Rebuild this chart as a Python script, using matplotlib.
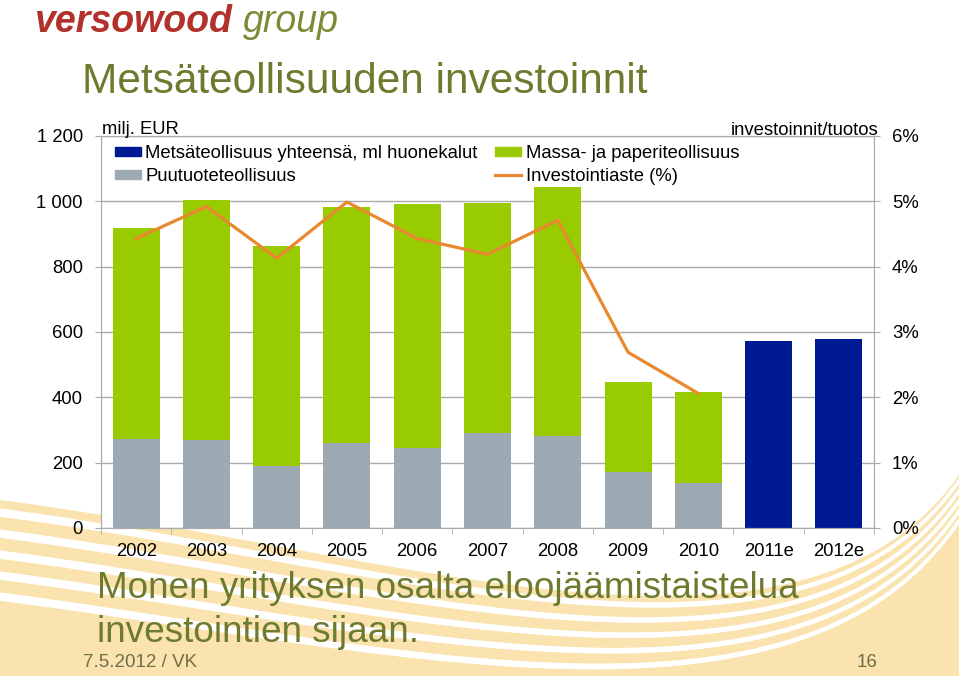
import numpy as np
import matplotlib
matplotlib.use('Agg')
import matplotlib.pyplot as plt
from matplotlib.patches import Patch
from matplotlib.lines import Line2D
from matplotlib.collections import LineCollection

plt.rcParams['font.family'] = ['Liberation Sans', 'DejaVu Sans']

# data (milj. EUR and %)
years = ['2002', '2003', '2004', '2005', '2006', '2007', '2008', '2009', '2010', '2011e', '2012e']
puutuote = [272, 269, 191, 261, 245, 290, 283, 171, 139, 0, 0]
massa_paperi = [645, 735, 672, 723, 746, 706, 760, 277, 276, 0, 0]
yhteensa = [0, 0, 0, 0, 0, 0, 0, 0, 0, 571, 578]
inv_aste = [4.43, 4.92, 4.13, 4.99, 4.43, 4.19, 4.71, 2.69, 2.06]

left_ticks = [0, 200, 400, 600, 800, 1000, 1200]
left_labels = ['0', '200', '400', '600', '800', '1 000', '1 200']
right_ticks = [0, 1, 2, 3, 4, 5, 6]
right_labels = ['0%', '1%', '2%', '3%', '4%', '5%', '6%']

NAVY = '#001a94'
GREEN = '#99cc00'
GRAY = '#9eaab3'
ORANGE = '#e8892f'
OLIVE = '#6e7b2e'
BEIGE = '#fae3ae'
AXIS = '#ababab'
FS = 13.3

W, H = 959, 676
fig = plt.figure(figsize=(W / 100, H / 100), dpi=100)

# background waves (pixel coordinates)
bg = fig.add_axes([0, 0, 1, 1])
bg.set_xlim(0, W)
bg.set_ylim(H, 0)
bg.axis('off')


def wave(k, n=200):
    t = np.linspace(0, 1, n)[:, None]
    p = np.array([[0, 500 + 21 * k], [400, 552 + 21 * k],
                  [800, 700 + 12 * k], [959, 475 + 10 * k]])
    return ((1 - t) ** 3 * p[0] + 3 * (1 - t) ** 2 * t * p[1]
            + 3 * (1 - t) * t ** 2 * p[2] + t ** 3 * p[3])


top = wave(0)
poly = np.vstack([top, [[W, H], [0, H]]])
bg.fill(poly[:, 0], poly[:, 1], color=BEIGE, lw=0)
for k in range(5):
    c = wave(k + 0.6)
    segs = np.stack([c[:-1], c[1:]], axis=1)
    widths = np.linspace(6, 2.5, len(segs))
    bg.add_collection(LineCollection(segs, colors='white', linewidths=widths,
                                     capstyle='round'))

# chart
ax = fig.add_axes([101 / W, 1 - 528 / H, 773 / W, 392 / H])
ax.set_facecolor('white')
x = np.arange(len(years))
bw = 0.67
ax.bar(x, puutuote, bw, color=GRAY, zorder=2)
ax.bar(x, massa_paperi, bw, bottom=puutuote, color=GREEN, zorder=2)
ax.bar(x, yhteensa, bw, color=NAVY, zorder=2)
ax.set_xlim(-0.5, len(years) - 0.5)
ax.set_ylim(0, 1200)
ax.set_yticks(left_ticks)
ax.set_yticklabels(left_labels)
ax.yaxis.grid(True, color=AXIS, lw=1)
ax.set_axisbelow(True)
ax.set_xticks(x)
ax.set_xticklabels(years)
ax.set_xticks(np.arange(-0.5, len(years)), minor=True)
ax.tick_params(axis='x', which='major', length=0, pad=11, labelsize=FS)
ax.tick_params(axis='x', which='minor', length=4, color=AXIS, direction='out')
ax.tick_params(axis='y', length=4, color=AXIS, pad=9, labelsize=FS)
for s in ax.spines.values():
    s.set_color(AXIS)

ax2 = ax.twinx()
ax2.plot(x[:len(inv_aste)], inv_aste, color=ORANGE, lw=2.3, zorder=3)
ax2.set_ylim(0, 6)
ax2.set_yticks(right_ticks)
ax2.set_yticklabels(right_labels)
ax2.tick_params(axis='y', length=4, color=AXIS, pad=9, labelsize=FS)
for s in ax2.spines.values():
    s.set_color(AXIS)

handles = [Patch(color=NAVY, label='Metsäteollisuus yhteensä, ml huonekalut'),
           Patch(color=GRAY, label='Puutuoteteollisuus'),
           Patch(color=GREEN, label='Massa- ja paperiteollisuus'),
           Line2D([], [], color=ORANGE, lw=2.3, label='Investointiaste (%)')]
ax2.legend(handles=handles, ncol=2, loc='upper left',
           bbox_to_anchor=(14 / 773, 1 - 9 / 392), frameon=False, fontsize=FS,
           handlelength=1.4, handleheight=0.4, handletextpad=0.25,
           columnspacing=0.95, labelspacing=0.32, borderpad=0, borderaxespad=0)

fig.text(102 / W, 1 - 134 / H, 'milj. EUR', fontsize=FS, va='baseline')
fig.text(878 / W, 1 - 135 / H, 'investoinnit/tuotos', fontsize=FS,
         va='baseline', ha='right')

# slide texts
fig.text(35 / W, 1 - 32 / H, 'versowood', fontsize=27, fontweight='bold',
         fontstyle='italic', color='#b3312c', va='baseline')
fig.text(243 / W, 1 - 32 / H, 'group', fontsize=27, fontstyle='italic',
         color='#7b8b36', va='baseline')
fig.text(82 / W, 1 - 93 / H, 'Metsäteollisuuden investoinnit', fontsize=30.5,
         color=OLIVE, va='baseline')
fig.text(97 / W, 1 - 598 / H, 'Monen yrityksen osalta eloojäämistaistelua',
         fontsize=26.6, color=OLIVE, va='baseline')
fig.text(97 / W, 1 - 642 / H, 'investointien sijaan.', fontsize=26.6,
         color=OLIVE, va='baseline')
fig.text(83 / W, 1 - 667 / H, '7.5.2012 / VK', fontsize=13.5, color='#6f6f48',
         va='baseline')
fig.text(878 / W, 1 - 667 / H, '16', fontsize=13.5, color='#6f6f48',
         va='baseline', ha='right')

fig.savefig('out.png', dpi=100)
